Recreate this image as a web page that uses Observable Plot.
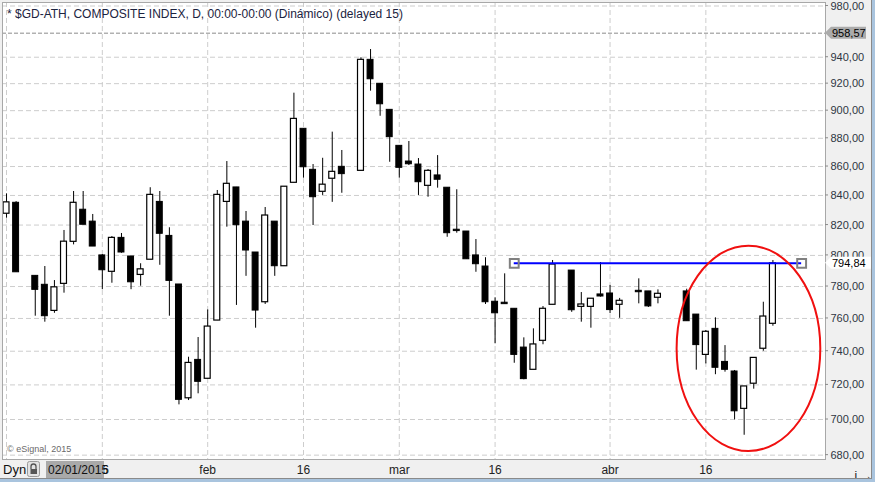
<!DOCTYPE html>
<html><head><meta charset="utf-8">
<script src="https://cdn.jsdelivr.net/npm/d3@7"></script>
<script src="https://cdn.jsdelivr.net/npm/@observablehq/plot@0.6"></script>
<style>
html,body{margin:0;padding:0;background:#f0f0f0;}
#chart{width:875px;height:482px;overflow:hidden;position:relative;}
svg{display:block;}
</style></head><body><div id="chart"></div>
<script>
// ---- data (one entry per session slot; null = no trading data) ----
const dates = [
 "2015-01-02","2015-01-05","2015-01-06","2015-01-07","2015-01-08","2015-01-09",
 "2015-01-12","2015-01-13","2015-01-14","2015-01-15","2015-01-16",
 "2015-01-19","2015-01-20","2015-01-21","2015-01-22","2015-01-23",
 "2015-01-26","2015-01-27","2015-01-28","2015-01-29","2015-01-30",
 "2015-02-02","2015-02-03","2015-02-04","2015-02-05","2015-02-06",
 "2015-02-09","2015-02-10","2015-02-11","2015-02-12","2015-02-13",
 "2015-02-16","2015-02-17","2015-02-18","2015-02-19","2015-02-20",
 "2015-02-23","2015-02-24","2015-02-25","2015-02-26","2015-02-27",
 "2015-03-02","2015-03-03","2015-03-04","2015-03-05","2015-03-06",
 "2015-03-09","2015-03-10","2015-03-11","2015-03-12","2015-03-13",
 "2015-03-16","2015-03-17","2015-03-18","2015-03-19","2015-03-20",
 "2015-03-23","2015-03-24","2015-03-25","2015-03-26","2015-03-27",
 "2015-03-30","2015-03-31","2015-04-01","2015-04-02","2015-04-03",
 "2015-04-06","2015-04-07","2015-04-08","2015-04-09","2015-04-10",
 "2015-04-14","2015-04-15","2015-04-16","2015-04-17",
 "2015-04-20","2015-04-21","2015-04-22","2015-04-23","2015-04-24",
 "2015-04-27"
];
const open = [
 827.6,835.0,null,786.8,781.1,764.7,
 781.7,808.9,830.3,822.3,800.0,
 789.4,811.5,799.3,787.4,797.2,
 835.6,812.8,781.3,712.2,734.8,
 723.6,758.7,835.6,845.5,822.3,
 801.9,770.1,822.3,793.0,848.7,
 886.8,857.7,842.5,851.5,859.8,
 null,857.0,938.0,919.9,900.6,
 874.6,863.5,861.4,846.6,853.8,
 845.3,816.9,815.7,800.0,792.8,
 770.4,769.8,766.0,742.2,728.9,
 746.3,768.5,null,790.2,767.2,
 767.2,775.0,775.6,768.5,null,
 777.3,776.9,772.9,null,null,
 776.9,762.4,737.8,753.6,
 733.6,727.9,706.1,720.7,741.5,
 756.7
];
const high = [
 841.1,835.8,null,786.8,792.8,783.8,
 816.4,842.7,842.7,827.1,800.6,
 812.4,814.4,799.3,794.6,845.3,
 842.7,818.2,781.3,736.4,748.3,
 765.3,843.4,863.5,845.5,829.1,
 801.9,831.8,822.3,846.0,912.9,
 886.8,861.4,865.8,884.4,871.3,
 null,939.6,945.9,919.9,900.6,
 874.6,877.7,865.6,857.9,867.7,
 845.3,843.9,815.7,810.4,798.5,
 772.9,788.1,766.0,748.1,753.6,
 767.4,796.7,null,790.2,776.2,
 772.3,795.4,780.7,772.5,null,
 784.9,776.9,777.9,null,null,
 778.3,762.4,752.6,760.4,
 743.4,728.5,719.1,736.0,770.1,
 796.7
];
const low = [
 824.6,789.1,null,761.4,757.7,763.2,
 775.8,806.9,820.2,805.8,778.0,
 782.1,801.4,778.0,780.2,797.2,
 793.6,761.4,708.4,710.9,714.8,
 723.6,758.7,818.6,768.1,786.5,
 754.0,768.7,786.5,793.0,848.7,
 851.9,819.7,840.0,835.3,841.5,
 null,857.0,914.4,895.9,863.0,
 851.9,860.7,840.0,838.8,845.0,
 811.9,814.6,797.5,789.1,768.7,
 744.5,768.9,732.8,723.0,728.9,
 743.9,768.5,null,763.8,757.7,
 754.0,773.3,763.0,760.1,null,
 769.1,766.8,769.1,null,null,
 758.3,728.7,732.4,726.0,
 727.5,699.8,691.1,717.5,740.0,
 755.2
];
const close = [
 835.3,789.1,null,777.9,761.4,779.5,
 809.0,835.0,820.2,805.8,790.4,
 811.5,801.9,782.7,791.0,840.4,
 814.2,783.6,711.3,733.0,721.8,
 755.0,840.4,848.0,819.9,803.2,
 764.9,826.4,793.0,846.0,894.0,
 859.5,838.8,847.4,856.3,854.7,
 null,938.0,923.3,904.7,880.8,
 859.1,861.6,849.1,857.0,850.8,
 814.6,816.0,797.5,794.3,770.1,
 763.2,768.9,737.8,723.4,744.1,
 766.0,794.1,null,765.1,768.7,
 772.3,773.7,765.2,771.0,null,
 776.4,767.5,775.4,null,null,
 758.3,743.7,751.8,730.1,
 728.9,704.7,719.1,736.0,761.2,
 794.84
];
const futureDates = ["2015-04-28","2015-04-29","2015-04-30","2015-05-01","2015-05-04"];
const gridDates   = ["2015-01-02","2015-01-16","2015-02-02","2015-02-16","2015-03-02","2015-03-16","2015-04-01","2015-04-16"];
const xTickDates  = ["2015-01-16","2015-02-02","2015-02-16","2015-03-02","2015-03-16","2015-04-01","2015-04-16"];
const xTickLabels = ["16","feb","16","mar","16","abr","16"];
const yTicks = [680,700,720,740,760,780,800,820,840,860,880,900,920,940,980];
const title = "* $GD-ATH, COMPOSITE INDEX, D, 00:00-00:00 (Dinámico) (delayed 15)";
const copyright = "© eSignal, 2015";
const lastPrice = 794.84;
const refPrice = 958.57;
const levelLine = {value: 794.84, from: "2015-03-18", to: "2015-04-30"};
const ellipseBox = {from: "2015-04-10", to: "2015-05-04", top: 806, bottom: 682};
const startLabel = "02/01/2015";
const modeLabel = "Dyn";

// ---- build ----
const slots = dates.concat(futureDates);
const slotOf = d => slots.indexOf(d);
const bars = dates.map((d, i) => ({i, open: open[i], high: high[i], low: low[i], close: close[i]}))
                  .filter(b => b.open != null);
const up = bars.filter(b => b.close >= b.open);
const down = bars.filter(b => b.close < b.open);
const fmt = v => v.toFixed(2).replace(".", ",");
const tickSlots = xTickDates.map(slotOf);
const FONT = "'Liberation Sans', Arial, sans-serif";
const grid = {stroke: "#cdcdcd", strokeOpacity: 1, strokeDasharray: "5,3"};
const half = 0.31;

const chart = Plot.plot({
  width: 875, height: 482,
  marginTop: 2, marginRight: 50, marginBottom: 23, marginLeft: 2,
  style: {background: "#f0f0f0", fontFamily: FONT, fontSize: "11px", overflow: "hidden"},
  x: {type: "linear", domain: [-0.42, 85.49], axis: null},
  y: {type: "log", domain: [677.6, 982.8], axis: null},
  marks: [
    Plot.frame({fill: "white"}),
    Plot.gridY(yTicks, grid),
    Plot.gridX(gridDates.map(slotOf), grid),
    Plot.ruleY([refPrice], {stroke: "#8c8c8c", strokeDasharray: "4,2"}),
    Plot.ruleX(bars, {x: "i", y1: "low", y2: "high", stroke: "black", strokeWidth: 1}),
    Plot.rect(down, {x1: d => d.i - half, x2: d => d.i + half, y1: "open", y2: "close", fill: "black", stroke: "black", strokeWidth: 1}),
    Plot.rect(up, {x1: d => d.i - half, x2: d => d.i + half, y1: "open", y2: "close", fill: "white", stroke: "black", strokeWidth: 1.2}),
    Plot.ruleY([levelLine], {y: "value", x1: d => slotOf(d.from), x2: d => slotOf(d.to), stroke: "#0000ff", strokeWidth: 2}),
    Plot.dot([levelLine.from, levelLine.to], {x: d => slotOf(d), y: () => levelLine.value, symbol: "square", r: 5, stroke: "#808080", strokeWidth: 2, fill: "none"}),
    Plot.text(yTicks, {y: d => d, text: fmt, frameAnchor: "right", dx: 5, textAnchor: "start", fill: "#2e3642", fontSize: 11, clip: false}),
    Plot.axisX(tickSlots, {anchor: "bottom", tickSize: 0, tickPadding: 6, tickFormat: i => xTickLabels[tickSlots.indexOf(i)], fill: "#222", fontSize: 12}),
    Plot.frame({stroke: "#a8a8a8"})
  ]
});
document.getElementById("chart").appendChild(chart);

// ---- annotations positioned through the chart's own scales ----
const sx = chart.scale("x"), sy = chart.scale("y");
const svg = d3.select(chart);
const NS = svg.append("g").attr("font-family", FONT).attr("text-anchor", "start");

// y-axis tick marks
NS.selectAll("line.ytick").data(yTicks).join("line").attr("class", "ytick")
  .attr("x1", 825).attr("x2", 828).attr("y1", d => sy.apply(d)).attr("y2", d => sy.apply(d))
  .attr("stroke", "#8a8a8a");

// red ellipse
const ex1 = sx.apply(slotOf(ellipseBox.from)), ex2 = sx.apply(slotOf(ellipseBox.to));
const ey1 = sy.apply(ellipseBox.top), ey2 = sy.apply(ellipseBox.bottom);
NS.append("ellipse").attr("cx", (ex1 + ex2) / 2).attr("cy", (ey1 + ey2) / 2)
  .attr("rx", (ex2 - ex1) / 2).attr("ry", (ey2 - ey1) / 2)
  .attr("fill", "none").attr("stroke", "#f01010").attr("stroke-width", 2);

// title & copyright
NS.append("text").attr("x", 7).attr("y", 18).attr("font-size", 12).attr("fill", "#1b2340").text(title);
NS.append("text").attr("x", 7).attr("y", 452).attr("font-size", 9).attr("fill", "#6a6a6a").text(copyright);

// price tags on the axis
function tag(value, fill, width) {
  const y = sy.apply(value), x0 = 825;
  NS.append("path").attr("d", `M${x0},${y} L${x0 + 6},${y - 6} L${x0 + width},${y - 6} L${x0 + width},${y + 6} L${x0 + 6},${y + 6} Z`)
    .attr("fill", fill);
  NS.append("text").attr("x", x0 + 7).attr("y", y + 4).attr("font-size", 11).attr("fill", "#000").text(fmt(value));
}
tag(refPrice, "#ababab", 41);
tag(lastPrice, "#ffffff", 48);

// bottom-left controls
NS.append("text").attr("x", 3).attr("y", 474).attr("font-size", 13).attr("fill", "#111").text(modeLabel);
const lock = NS.append("g");
lock.append("rect").attr("x", 27.5).attr("y", 461.5).attr("width", 12).attr("height", 15).attr("rx", 2)
  .attr("fill", "#e2e2e2").attr("stroke", "#9a9a9a");
lock.append("path").attr("d", "M31,469 v-2.5 a2.5,2.5 0 0 1 5,0 v2.5").attr("fill", "none").attr("stroke", "#555").attr("stroke-width", 1.3);
lock.append("rect").attr("x", 30.5).attr("y", 469).attr("width", 6.5).attr("height", 5).attr("fill", "#555");
NS.append("rect").attr("x", 46).attr("y", 461).attr("width", 58).attr("height", 17).attr("fill", "#a9a9a9");
NS.append("text").attr("x", 48).attr("y", 474).attr("font-size", 12).attr("fill", "#111").text(startLabel);

// window borders
NS.append("rect").attr("x", 0).attr("y", 478.5).attr("width", 875).attr("height", 4).attr("fill", "#a9c4de");
NS.append("rect").attr("x", 872).attr("y", 0).attr("width", 3).attr("height", 482).attr("fill", "#a9c4de");
NS.append("line").attr("x1", 871.5).attr("x2", 871.5).attr("y1", 0).attr("y2", 479).attr("stroke", "#8a8a8a");
NS.append("line").attr("x1", 0).attr("x2", 872).attr("y1", 478.5).attr("y2", 478.5).attr("stroke", "#8a8a8a");
</script></body></html>
